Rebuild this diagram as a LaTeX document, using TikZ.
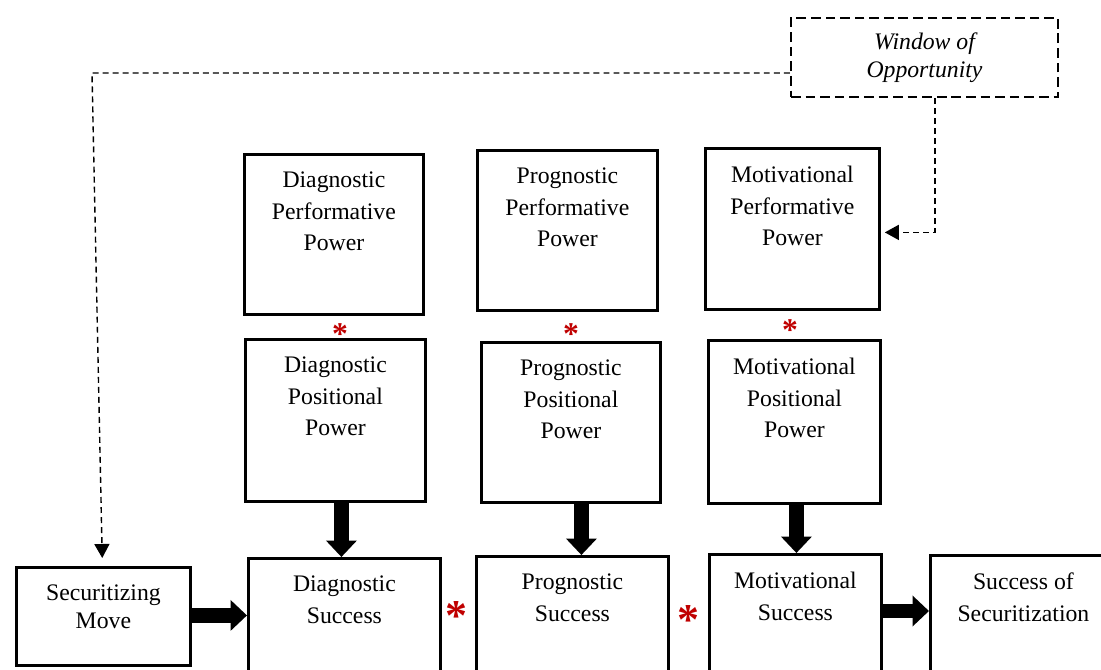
\documentclass[tikz,border=0pt]{standalone}
\usepackage{fontspec}
\setmainfont{Liberation Serif}
\usepackage{tikz}
\usetikzlibrary{arrows.meta}

\definecolor{starred}{RGB}{192,0,0}

% text of a box, set from its top edge
\newcommand{\boxtxt}[3]{\parbox[t][#2][t]{#1}{\centering\vspace*{0.35cm}#3}}

\begin{document}
\begin{tikzpicture}[
            blk/.style = {draw, line width=1.6pt, inner sep=0pt, anchor=north west}, % solid boxes
            win/.style = {draw, line width=1.4pt, dash pattern=on 5.5pt off 2.8pt, inner sep=0pt,
                          minimum width=5.34cm, minimum height=1.58cm, align=center,
                          font=\fontsize{13.5}{16}\selectfont\itshape}, % dashed box
            fat/.style = {line width=0.29cm, -{Triangle[length=0.33cm,width=0.6cm]}}, % thick arrows
            dsh/.style = {line width=0.8pt, dash pattern=on 3.4pt off 2.3pt,
                          -{Triangle[length=0.28cm,width=0.3cm]}}, % dashed connectors
            star/.style = {text=starred, inner sep=0pt}
        ]
	\useasboundingbox (0,0) rectangle (22.02,-13.38);
	\clip (0,0) rectangle (22.02,-13.38);
	\fontsize{13.5}{18}\selectfont

	% window of opportunity
	\node[win] (wo) at (18.49,-1.15) {Window of\\Opportunity};

	% performative power
	\node[blk] (dperf) at (4.86,-3.06) {\boxtxt{3.58cm}{3.2cm}{Diagnostic\\Performative\\Power}};
	\node[blk] (pperf) at (9.52,-2.98) {\boxtxt{3.6cm}{3.2cm}{Prognostic\\Performative\\Power}};
	\node[blk] (mperf) at (14.08,-2.94) {\boxtxt{3.48cm}{3.22cm}{Motivational\\Performative\\Power}};

	% positional power
	\node[blk] (dpos) at (4.88,-6.76) {\boxtxt{3.6cm}{3.24cm}{Diagnostic\\Positional\\Power}};
	\node[blk] (ppos) at (9.6,-6.82) {\boxtxt{3.58cm}{3.2cm}{Prognostic\\Positional\\Power}};
	\node[blk] (mpos) at (14.14,-6.78) {\boxtxt{3.44cm}{3.26cm}{Motivational\\Positional\\Power}};

	% success row
	\node[blk] (smove) at (0.3,-11.32) {\boxtxt{3.48cm}{1.96cm}{\baselineskip=16pt Securitizing\\Move}};
	\node[blk] (dsucc) at (4.94,-11.14) {\boxtxt{3.84cm}{2.6cm}{Diagnostic\\Success}};
	\node[blk] (psucc) at (9.5,-11.1) {\boxtxt{3.84cm}{2.6cm}{Prognostic\\Success}};
	\node[blk] (msucc) at (14.16,-11.06) {\boxtxt{3.44cm}{2.6cm}{Motivational\\Success}};
	\node[blk] (ssec) at (18.58,-11.08) {\boxtxt{3.72cm}{2.6cm}{Success of\\Securitization}};

	% asterisks
	\node[star, font=\bfseries\fontsize{18}{18}\selectfont] (s1) at (6.8,-6.68) {*};
	\node[star, font=\bfseries\fontsize{18}{18}\selectfont] (s2) at (11.42,-6.68) {*};
	\node[star, font=\bfseries\fontsize{18}{18}\selectfont] (s3) at (15.8,-6.6) {*};
	\node[star, font=\bfseries\fontsize{25}{25}\selectfont] (s4) at (9.12,-12.32) {*};
	\node[star, font=\bfseries\fontsize{25}{25}\selectfont] (s5) at (13.76,-12.4) {*};

	% thick arrows
	\coordinate (da) at ([xshift=-0.06cm]dsucc.north);
	\coordinate (pa) at ([xshift=0.18cm]psucc.north);
	\coordinate (ma) at ([xshift=0.02cm]msucc.north);
	\draw[fat] (dpos.south -| da) -- (da);
	\draw[fat] (ppos.south -| pa) -- (pa);
	\draw[fat] (mpos.south -| ma) -- (ma);
	\coordinate (sa) at ([yshift=0.02cm]smove.east);
	\draw[fat] (sa) -- (sa -| dsucc.west);
	\coordinate (ra) at ([yshift=-1.16cm]msucc.north east);
	\draw[fat] (ra) -- (ra -| ssec.west);

	% window of opportunity links
	\coordinate (wl) at ([yshift=-0.31cm]wo.west);
	\coordinate (wc) at (1.84,-1.46);
	\draw[dsh, shorten >=0.16cm] (wl) -- (wc) -- ([xshift=-0.02cm]smove.north);
	\coordinate (wd) at ([xshift=0.21cm]wo.south);
	\draw[dsh, shorten >=0.08cm] (wd) |- ([yshift=-0.07cm]mperf.east);

\end{tikzpicture}
\end{document}
